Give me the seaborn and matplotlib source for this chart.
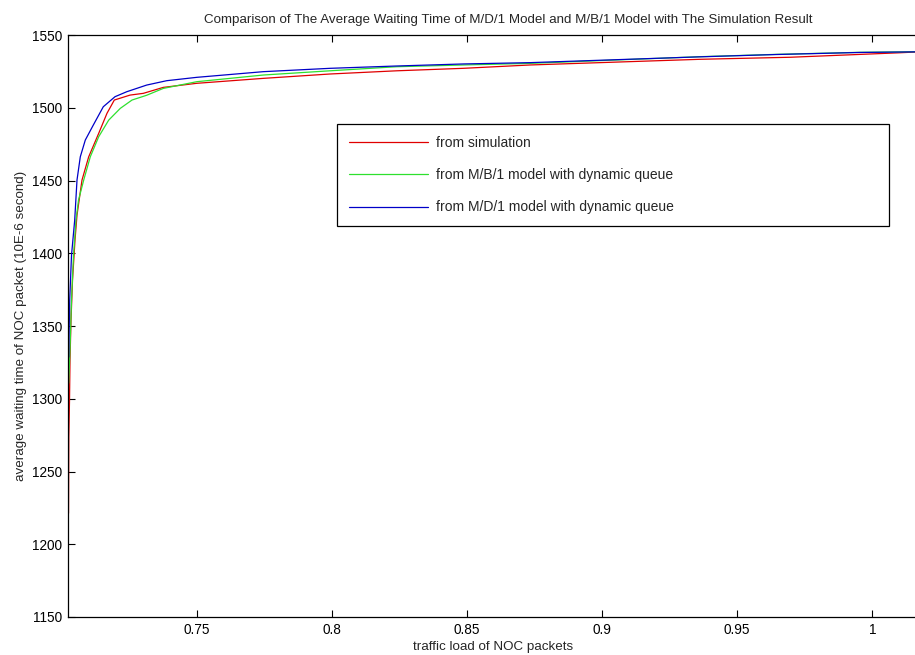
import matplotlib
matplotlib.use("Agg")
import matplotlib.pyplot as plt
import seaborn as sns
import pandas as pd

# ---- data ----
sim_x = [0.70259, 0.70270, 0.70296, 0.70314, 0.70351, 0.70407, 0.70499, 0.70573,
         0.70758, 0.71006, 0.71376, 0.71683, 0.71954, 0.72535, 0.73027, 0.73767,
         0.75003, 0.77468, 0.79937, 0.82405, 0.84870, 0.87339, 0.93630, 0.96961,
         0.98934, 1.01033, 1.01588]
sim_y = [1221.3, 1273.6, 1299.0, 1326.5, 1354.0, 1381.5, 1409.0, 1426.2,
         1450.3, 1466.3, 1482.4, 1496.2, 1505.3, 1508.7, 1509.9, 1514.0,
         1516.8, 1520.2, 1523.2, 1525.4, 1527.1, 1529.4, 1533.3, 1534.7,
         1536.2, 1537.8, 1538.3]

mb1_x = [0.70266, 0.70314, 0.70370, 0.70444, 0.70536, 0.70629, 0.70821, 0.71065,
         0.71376, 0.71746, 0.72176, 0.72609, 0.73153, 0.73767, 0.75003, 0.77468,
         0.79937, 0.82405, 0.84870, 0.87339, 0.93630, 0.96468, 0.99539, 1.01588]
mb1_y = [1310.7, 1333.4, 1367.8, 1398.7, 1422.8, 1436.5, 1450.3, 1466.3,
         1480.1, 1491.5, 1499.6, 1505.3, 1508.6, 1513.3, 1517.9, 1522.5,
         1525.4, 1528.2, 1529.4, 1530.5, 1535.1, 1536.7, 1538.1, 1538.5]

md1_x = [0.70266, 0.70303, 0.70370, 0.70488, 0.70573, 0.70695, 0.70880, 0.71176,
         0.71546, 0.71980, 0.72412, 0.73153, 0.73893, 0.75003, 0.77468, 0.79937,
         0.82405, 0.84870, 0.87339, 0.93630, 0.96468, 0.99539, 1.01588]
md1_y = [1328.6, 1367.8, 1398.7, 1422.8, 1450.3, 1466.3, 1477.8, 1488.1,
         1500.7, 1507.6, 1511.0, 1515.6, 1518.6, 1520.9, 1524.8, 1527.1,
         1528.7, 1530.1, 1531.0, 1535.0, 1536.6, 1538.0, 1538.4]

series_names = ["from simulation",
                "from M/B/1 model with dynamic queue",
                "from M/D/1 model with dynamic queue"]
series_colors = ["#e00000", "#2ee02e", "#0000c8"]

x_ticks = [0.75, 0.8, 0.85, 0.9, 0.95, 1.0]
x_tick_labels = ["0.75", "0.8", "0.85", "0.9", "0.95", "1"]
y_ticks = [1150, 1200, 1250, 1300, 1350, 1400, 1450, 1500, 1550]

title = "Comparison of The Average Waiting Time of M/D/1 Model and M/B/1 Model with The Simulation Result"
x_label = "traffic load of NOC packets"
y_label = "average waiting time of NOC packet (10E-6 second)"

# ---- build long table ----
frames = []
for name, xs, ys in zip(series_names, [sim_x, mb1_x, md1_x], [sim_y, mb1_y, md1_y]):
    frames.append(pd.DataFrame({"x": xs, "y": ys, "series": name}))
df = pd.concat(frames, ignore_index=True)

sns.set_theme(style="white")
plt.rcParams["font.family"] = ["Liberation Sans", "DejaVu Sans"]
plt.rcParams["font.size"] = 10

fig = plt.figure(figsize=(9.15, 6.55), dpi=100)
fig.patch.set_facecolor("white")
W, H = 915, 655
ax_left, ax_right, ax_top, ax_bottom = 68, 948, 35, 617
ax = fig.add_axes([ax_left / W, 1 - ax_bottom / H, (ax_right - ax_left) / W, (ax_bottom - ax_top) / H])

sns.lineplot(data=df, x="x", y="y", hue="series", hue_order=series_names,
             palette=dict(zip(series_names, series_colors)),
             estimator=None, sort=False, linewidth=0.9, ax=ax)

ax.set_xlim(0.7024, 1.028)
ax.set_ylim(1150, 1550)
ax.set_xticks(x_ticks)
ax.set_xticklabels(x_tick_labels)
ax.set_yticks(y_ticks)
ax.tick_params(direction="in", length=5, width=0.8, colors="black",
               labelsize=9.8, top=True, right=True, left=True, bottom=True, pad=4)
for s in ax.spines.values():
    s.set_color("black")
    s.set_linewidth(0.9)
ax.set_facecolor("white")

ax.set_title(title, fontsize=9.6, pad=9)
ax.set_xlabel(x_label, fontsize=9.6, labelpad=2)
ax.set_ylabel(y_label, fontsize=9.6, labelpad=4)
ax.xaxis.set_label_coords((493 - ax_left) / (ax_right - ax_left), -0.041)

handles, labels = ax.get_legend_handles_labels()
ax.get_legend().remove()
leg_x0, leg_x1, leg_top = 337, 889, 124
leg = fig.legend(handles, labels, loc="upper left",
                 bbox_to_anchor=(leg_x0 / W, 1 - leg_top / H - 0.2, (leg_x1 - leg_x0) / W, 0.2),
                 bbox_transform=fig.transFigure, mode="expand", borderaxespad=0,
                 fancybox=False, framealpha=1, edgecolor="black", fontsize=10,
                 handlelength=5.7, handletextpad=0.6, labelspacing=1.32, borderpad=0.85)
leg.get_frame().set_linewidth(0.9)

fig.savefig("out.png", dpi=100, facecolor="white")
